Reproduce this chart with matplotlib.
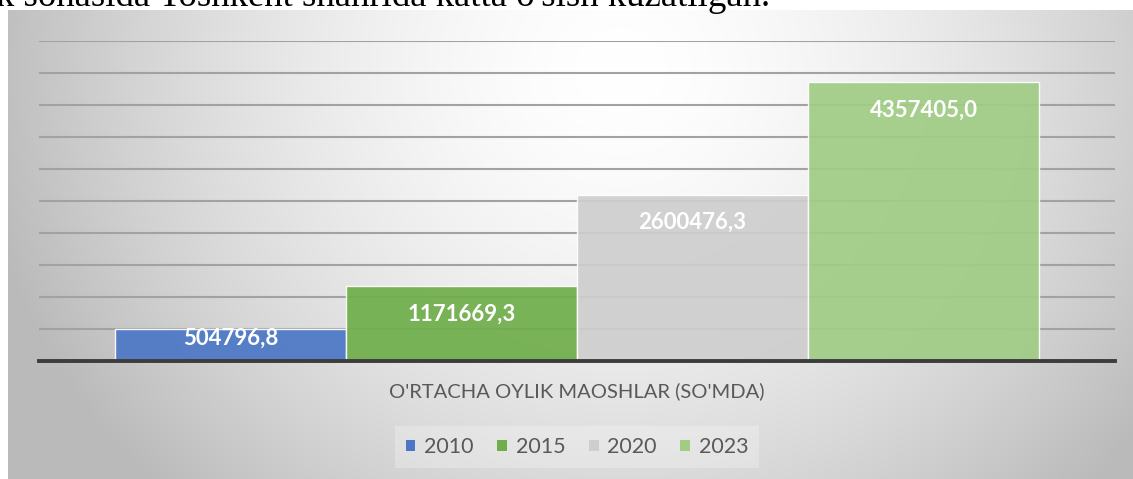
import numpy as np
import matplotlib.pyplot as plt
from matplotlib.patches import Patch

# Chart data
years = ['2010', '2015', '2020', '2023']
salaries = [504796.8, 1171669.3, 2600476.3, 4357405.0]
value_labels = ['504796,8', '1171669,3', '2600476,3', '4357405,0']
category = "O'RTACHA OYLIK MAOSHLAR (SO'MDA)"
colors = ['#4b77c6', '#6fae4a', '#cecece', '#a0cc85']
y_ticks = [500000, 1000000, 1500000, 2000000, 2500000,
           3000000, 3500000, 4000000, 4500000, 5000000]

W, H = 1133, 479
fig = plt.figure(figsize=(W / 100, H / 100), dpi=100)
fig.patch.set_facecolor('white')

# Text line of the document above the chart (cut off at the top)
fig.text(-4 / W, 1 - 6 / H, "k sohasida Toshkent shahrida katta o'sish kuzatilgan.",
         family='Liberation Serif', fontsize=26.5, color='black',
         ha='left', va='baseline')

# Chart area with a radial grey gradient
left_px, top_px = 8, 10
bg = fig.add_axes([left_px / W, 0, 1 - left_px / W, (H - top_px) / H], zorder=0)
yy, xx = np.mgrid[top_px:H, left_px:W]
d = np.sqrt(((xx - 620) / 650.0) ** 2 + ((yy - 70) / 600.0) ** 2)
shade = 1 - 0.27 * np.clip(d, 0, 1) ** 1.6
bg.imshow(np.dstack([shade] * 3), aspect='auto', interpolation='bilinear')
bg.axis('off')

# Plot area
ax = fig.add_axes([39 / W, (H - 361.3) / H, 1076 / W, 320.6 / H], zorder=1)
ax.patch.set_alpha(0)
x = np.arange(len(years))
ax.bar(x, salaries, width=1.0, color=colors, alpha=0.92,
       edgecolor=(1, 1, 1, 0.7), linewidth=1, zorder=2)
ax.set_xlim(-0.829, 3.829)
ax.set_ylim(0, 5000000)

ax.set_yticks(y_ticks)
ax.set_yticklabels([])
ax.tick_params(axis='y', length=0)
ax.grid(axis='y', color='#a2a2a2', linewidth=1.5, zorder=1)
ax.set_axisbelow(True)
for s in ['top', 'right', 'left']:
    ax.spines[s].set_visible(False)
ax.spines['bottom'].set_color('#3c3c3c')
ax.spines['bottom'].set_linewidth(2.8)
ax.spines['bottom'].set_zorder(3)

ax.set_xticks([1.5])
ax.set_xticklabels([category], family='Lato', fontsize=14.5, color='#595959')
ax.tick_params(axis='x', length=0, pad=15)

# Value labels inside the top of each bar
zero_px = ax.transData.transform((0, 0))[1]
for xi, v, lab in zip(x, salaries, value_labels):
    bar_px = ax.transData.transform((0, v))[1] - zero_px
    off = min(28, bar_px - 23)
    ax.annotate(lab, (xi, v), xytext=(0, -off), textcoords='offset pixels',
                ha='center', va='center', color='white', fontweight='bold',
                family='Lato', fontsize=16, zorder=4)

# Legend
handles = [Patch(facecolor=c, edgecolor='none') for c in colors]
leg = fig.legend(handles, years, loc='center', ncol=4,
                 bbox_to_anchor=(577 / W, 1 - 447 / H),
                 prop={'family': 'Lato', 'size': 15.5},
                 handlelength=0.45, handleheight=0.45, handletextpad=0.4,
                 columnspacing=1.1, frameon=True, fancybox=False,
                 borderpad=0.5, facecolor='white', edgecolor='none',
                 framealpha=0.25)
for t in leg.get_texts():
    t.set_color('#595959')

fig.savefig('out.png', dpi=100)
